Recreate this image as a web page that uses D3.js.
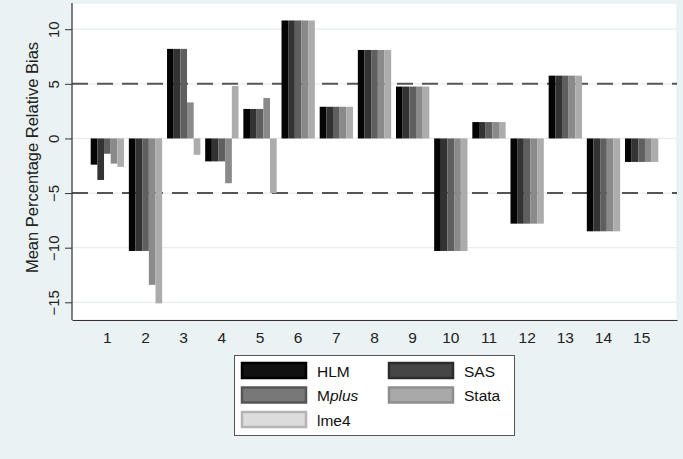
<!DOCTYPE html>
<html>
<head>
<meta charset="utf-8">
<script src="https://cdn.jsdelivr.net/npm/d3@7/dist/d3.min.js"></script>
<style>
  html, body { margin: 0; padding: 0; background: #eaf2f3; }
  svg { display: block; font-family: "Liberation Sans", Arial, sans-serif; }
</style>
</head>
<body>
<svg id="chart" width="683" height="459"></svg>
<script>
// Conditions 1..15
const categories = ["1","2","3","4","5","6","7","8","9","10","11","12","13","14","15"];

// Mean percentage relative bias per software package
const hlm   = [-2.4, -10.3,  8.2, -2.1,  2.7, 10.8, 2.9, 8.1, 4.75, -10.3, 1.5, -7.8, 5.75, -8.5, -2.15];
const sas   = [-3.8, -10.3,  8.2, -2.1,  2.7, 10.8, 2.9, 8.1, 4.75, -10.3, 1.5, -7.8, 5.75, -8.5, -2.15];
const mplus = [-1.4, -10.3,  8.2, -2.1,  2.7, 10.8, 2.9, 8.1, 4.75, -10.3, 1.5, -7.8, 5.75, -8.5, -2.15];
const stata = [-2.3, -13.4,  3.3, -4.1,  3.7, 10.8, 2.9, 8.1, 4.75, -10.3, 1.5, -7.8, 5.75, -8.5, -2.15];
const lme4  = [-2.6, -15.1, -1.5,  4.8, -5.0, 10.8, 2.9, 8.1, 4.75, -10.3, 1.5, -7.8, 5.75, -8.5, -2.15];

const seriesNames = ["HLM", "SAS", "Mplus", "Stata", "lme4"];
const seriesValues = [hlm, sas, mplus, stata, lme4];

const yTicks = [-15, -10, -5, 0, 5, 10];
const refLines = [5, -5];

// Bar shading and legend key shading
const barFill   = ["#050505", "#333333", "#5f5f5f", "#8a8a8a", "#acacac"];
const keyFill   = ["#111111", "#464646", "#787878", "#a9a9a9", "#dcdcdc"];
const keyStroke = ["#000000", "#2c2c2c", "#555555", "#8e8e8e", "#b4b4b4"];

const svg = d3.select("#chart");

const plot = { left: 72, right: 677, top: 3, bottom: 320 };

const x = d3.scaleBand()
  .domain(categories)
  .range([plot.left, plot.right])
  .paddingInner(0.127)
  .paddingOuter(0.49);

const xs = d3.scaleBand()
  .domain(seriesNames)
  .range([0, x.bandwidth()]);

const y = d3.scaleLinear()
  .domain([-16.62, 12.4])
  .range([plot.bottom, plot.top]);

// plot region
svg.append("rect")
  .attr("x", plot.left).attr("y", plot.top)
  .attr("width", plot.right - plot.left)
  .attr("height", plot.bottom - plot.top)
  .attr("fill", "#ffffff")
  .attr("stroke", "#e3ebed")
  .attr("stroke-width", 1);

// gridlines
svg.append("g")
  .selectAll("line")
  .data(yTicks)
  .join("line")
  .attr("x1", plot.left).attr("x2", plot.right)
  .attr("y1", d => y(d)).attr("y2", d => y(d))
  .attr("stroke", "#e6eef0")
  .attr("stroke-width", 1.2);

// reference lines at +/-5
svg.append("g")
  .selectAll("line")
  .data(refLines)
  .join("line")
  .attr("x1", plot.left).attr("x2", plot.right)
  .attr("y1", d => y(d)).attr("y2", d => y(d))
  .attr("stroke", "#555555")
  .attr("stroke-width", 2)
  .attr("stroke-dasharray", "16,9");

// bars
const groups = svg.append("g")
  .selectAll("g")
  .data(categories)
  .join("g")
  .attr("transform", d => `translate(${x(d)},0)`);

groups.selectAll("rect")
  .data((c, i) => seriesNames.map((s, j) => ({ s, j, v: seriesValues[j][i] })))
  .join("rect")
  .attr("x", d => xs(d.s))
  .attr("width", xs.bandwidth())
  .attr("y", d => y(Math.max(0, d.v)))
  .attr("height", d => Math.abs(y(d.v) - y(0)))
  .attr("fill", d => barFill[d.j]);

// y axis
const yAxis = svg.append("g")
  .attr("transform", `translate(${plot.left},0)`)
  .call(d3.axisLeft(y).tickValues(yTicks).tickSize(7).tickPadding(4).tickFormat(d3.format("d")));
yAxis.select(".domain").attr("stroke", "#333").attr("stroke-width", 1.2)
  .attr("d", `M0,${plot.top}V${plot.bottom}`);
yAxis.selectAll(".tick line").attr("stroke", "#333");
yAxis.selectAll(".tick text")
  .attr("font-size", 15)
  .attr("fill", "#222")
  .attr("x", null).attr("dy", null)
  .attr("text-anchor", "middle")
  .attr("transform", "translate(-13,0) rotate(-90)")
  .attr("y", 0);

// x axis
const xAxis = svg.append("g")
  .attr("transform", `translate(0,${plot.bottom})`)
  .call(d3.axisBottom(x).tickSize(0).tickPadding(12));
xAxis.select(".domain").attr("stroke", "#333").attr("stroke-width", 1.2);
xAxis.selectAll(".tick text").attr("font-size", 15.5).attr("fill", "#222");

// y axis title
svg.append("text")
  .attr("transform", `translate(38,${(plot.top + plot.bottom) / 2 - 4}) rotate(-90)`)
  .attr("text-anchor", "middle")
  .attr("font-size", 16.5)
  .attr("fill", "#222")
  .text("Mean Percentage Relative Bias");

// legend
const legend = svg.append("g");
legend.append("rect")
  .attr("x", 234.5).attr("y", 355.5)
  .attr("width", 280).attr("height", 80)
  .attr("fill", "#ffffff")
  .attr("stroke", "#555555")
  .attr("stroke-width", 1);

const legendPos = [
  { col: 0, row: 0 }, { col: 1, row: 0 },
  { col: 0, row: 1 }, { col: 1, row: 1 },
  { col: 0, row: 2 }
];

const items = legend.selectAll("g.item")
  .data(seriesNames)
  .join("g")
  .attr("class", "item")
  .attr("transform", (d, i) => `translate(${242 + legendPos[i].col * 147},${363 + legendPos[i].row * 24.5})`);

items.append("rect")
  .attr("width", 64).attr("height", 15)
  .attr("fill", (d, i) => keyFill[i])
  .attr("stroke", (d, i) => keyStroke[i])
  .attr("stroke-width", 2.5);

items.each(function (d) {
  const t = d3.select(this).append("text")
    .attr("x", 75).attr("y", 13.5)
    .attr("font-size", 15.5)
    .attr("fill", "#111");
  if (d === "Mplus") {
    t.append("tspan").text("M");
    t.append("tspan").attr("font-style", "italic").text("plus");
  } else {
    t.text(d);
  }
});
</script>
</body>
</html>
